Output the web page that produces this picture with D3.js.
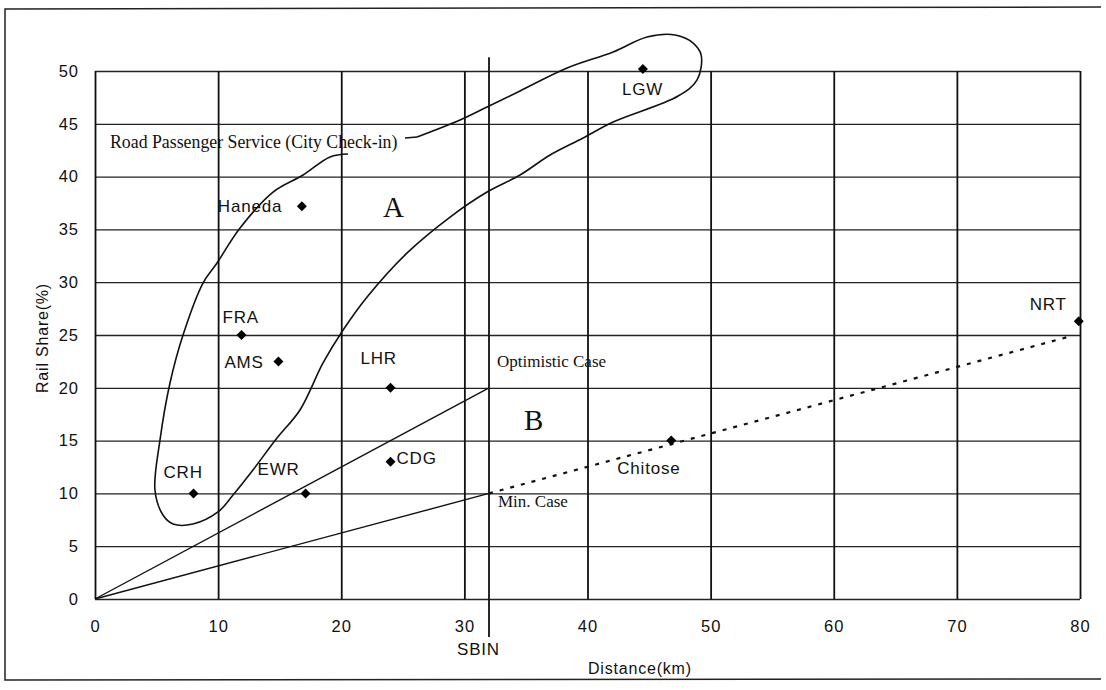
<!DOCTYPE html>
<html>
<head>
<meta charset="utf-8">
<script src="https://cdn.jsdelivr.net/npm/d3@7"></script>
<style>
  body { margin: 0; background: #fff; }
  svg { display: block; }
  .tick text { font-family: "Liberation Sans", Arial, sans-serif; font-size: 16.5px; letter-spacing: 1px; fill: #111; }
  .lbl { font-family: "Liberation Sans", Arial, sans-serif; font-size: 17px; letter-spacing: 0.8px; fill: #111; }
  .serif { font-family: "Liberation Serif", "Times New Roman", serif; fill: #111; }
</style>
</head>
<body>
<svg id="chart"></svg>
<script>
// airports: [distance km, rail share %]
const airports = [
    {name: 'LGW', x: 44.5, y: 50.2},
    {name: 'Haneda', x: 16.8, y: 37.2},
    {name: 'FRA', x: 11.9, y: 25},
    {name: 'AMS', x: 14.9, y: 22.5},
    {name: 'LHR', x: 24, y: 20},
    {name: 'CDG', x: 24, y: 13},
    {name: 'CRH', x: 8, y: 10},
    {name: 'EWR', x: 17.1, y: 10},
    {name: 'Chitose', x: 46.8, y: 15},
    {name: 'NRT', x: 79.9, y: 26.3}
];

const xTicks = [0, 10, 20, 30, 40, 50, 60, 70, 80];
const yTicks = [0, 5, 10, 15, 20, 25, 30, 35, 40, 45, 50];

const sbin = 32;
const optimisticCase = [[0, 0], [32, 20]];
const minCase = [[0, 0], [32, 10]];
const extension = [[32, 10], [79.3, 24.9]];

// Road Passenger Service (City Check-in) outline
const roadOutline = [
    [20.55, 42.14], [19.09, 41.86], [16.9, 40.15], [14.46, 38.54], [11.78, 35.13],
    [9.91, 31.82], [8.77, 29.92], [7.15, 25.0], [6.09, 20.45], [5.28, 15.06],
    [4.87, 10.32], [5.52, 7.95], [6.34, 7.1], [7.96, 7.1], [9.99, 8.24],
    [11.21, 9.85], [12.83, 12.22], [14.78, 15.25], [16.65, 17.9], [18.52, 22.35],
    [20.15, 25.47], [22.1, 28.6], [25.35, 32.77], [28.84, 36.17], [31.84, 38.54],
    [34.52, 40.15], [36.96, 42.05], [39.64, 43.66], [42.08, 45.17], [47.36, 47.63],
    [48.9, 49.15], [49.23, 51.52], [48.58, 52.65], [47.12, 53.41], [44.84, 53.22],
    [42.08, 51.8], [38.34, 50.28], [34.52, 48.11], [31.84, 46.59], [29.65, 45.36],
    [26.16, 43.75]
];
const roadLeader = [[26.16, 43.75], [25.18, 43.66]];

const width = 1106, height = 690;
const svg = d3.select('#chart').attr('width', width).attr('height', height);

const xScale = d3.scaleLinear().domain([0, 80]).range([95, 1080]);
const yScale = d3.scaleLinear().domain([0, 50]).range([599, 71]);

// page frame
svg.append('path')
    .attr('d', 'M1101,7 L5,9 L5,680 L1101,679')
    .attr('fill', 'none')
    .attr('stroke', '#222')
    .attr('stroke-width', 1.5);

// horizontal grid + y labels
const yAxisG = svg.append('g')
    .attr('transform', `translate(${xScale(0)},0)`)
    .call(d3.axisLeft(yScale)
        .tickValues(yTicks)
        .tickSize(-(xScale(80) - xScale(0)))
        .tickPadding(16));
yAxisG.select('.domain').remove();
yAxisG.selectAll('.tick line').attr('stroke', '#222').attr('stroke-width', 1.3);

// vertical grid + x labels
const xAxisG = svg.append('g')
    .attr('transform', `translate(0,${yScale(0)})`)
    .call(d3.axisBottom(xScale)
        .tickValues(xTicks)
        .tickSize(-(yScale(0) - yScale(50)))
        .tickPadding(21));
xAxisG.select('.domain').remove();
xAxisG.selectAll('.tick line').attr('stroke', '#111').attr('stroke-width', 1.8);

// SBIN line
svg.append('line')
    .attr('x1', xScale(sbin)).attr('x2', xScale(sbin))
    .attr('y1', yScale(51.3)).attr('y2', yScale(-3.6))
    .attr('stroke', '#111').attr('stroke-width', 1.8);

const line = d3.line().x(d => xScale(d[0])).y(d => yScale(d[1]));

svg.append('path').datum(optimisticCase).attr('d', line)
    .attr('fill', 'none').attr('stroke', '#111').attr('stroke-width', 1.4);
svg.append('path').datum(minCase).attr('d', line)
    .attr('fill', 'none').attr('stroke', '#111').attr('stroke-width', 1.4);
svg.append('path').datum(extension).attr('d', line)
    .attr('fill', 'none').attr('stroke', '#111').attr('stroke-width', 2.2)
    .attr('stroke-dasharray', '4,7');

const smooth = d3.line().x(d => xScale(d[0])).y(d => yScale(d[1])).curve(d3.curveCatmullRom);
svg.append('path').datum(roadOutline).attr('d', smooth)
    .attr('fill', 'none').attr('stroke', '#111').attr('stroke-width', 1.6);
svg.append('path').datum(roadLeader).attr('d', line)
    .attr('fill', 'none').attr('stroke', '#111').attr('stroke-width', 1.4);

// diamond markers (rotated squares)
svg.selectAll('.pt')
    .data(airports)
    .join('path')
    .attr('class', 'pt')
    .attr('d', d3.symbol().type(d3.symbolSquare).size(50))
    .attr('transform', d => `translate(${xScale(d.x)},${yScale(d.y)}) rotate(45)`)
    .attr('fill', '#000');

// airport labels (offsets from marker)
const labelOffset = {
    LGW: [-21, 20], Haneda: [-84, 0], FRA: [-19, -18], AMS: [-54, 1], LHR: [-30, -30],
    CDG: [6, -4], CRH: [-30, -21], EWR: [-48, -24], Chitose: [-54, 27], NRT: [-49, -17]
};
svg.selectAll('.lbl')
    .data(airports)
    .join('text')
    .attr('class', 'lbl')
    .attr('x', d => xScale(d.x) + labelOffset[d.name][0])
    .attr('y', d => yScale(d.y) + labelOffset[d.name][1])
    .attr('dy', '0.35em')
    .text(d => d.name);

// annotations
svg.append('text').attr('class', 'serif')
    .attr('x', 110).attr('y', 142).attr('dy', '0.35em')
    .style('font-size', '17.8px')
    .text('Road Passenger Service (City Check-in)');
svg.append('text').attr('class', 'serif')
    .attr('x', 497).attr('y', 361).attr('dy', '0.35em')
    .style('font-size', '17px')
    .text('Optimistic Case');
svg.append('text').attr('class', 'serif')
    .attr('x', 498).attr('y', 501).attr('dy', '0.35em')
    .style('font-size', '17px')
    .text('Min. Case');
svg.append('text').attr('class', 'serif')
    .attr('x', 383).attr('y', 217)
    .style('font-size', '29px').style('font-weight', '300')
    .text('A');
svg.append('text').attr('class', 'serif')
    .attr('x', 524).attr('y', 430)
    .style('font-size', '29px')
    .text('B');

// axis titles
svg.append('text').attr('class', 'lbl')
    .attr('x', 457).attr('y', 649).attr('dy', '0.35em')
    .style('font-size', '17px')
    .text('SBIN');
svg.append('text').attr('class', 'lbl')
    .attr('x', 588).attr('y', 668).attr('dy', '0.35em')
    .style('font-size', '16px')
    .text('Distance(km)');
svg.append('text').attr('class', 'lbl')
    .attr('transform', 'translate(42,338) rotate(-90)')
    .attr('dy', '0.35em')
    .style('text-anchor', 'middle').style('font-size', '16px')
    .text('Rail Share(%)');
</script>
</body>
</html>
